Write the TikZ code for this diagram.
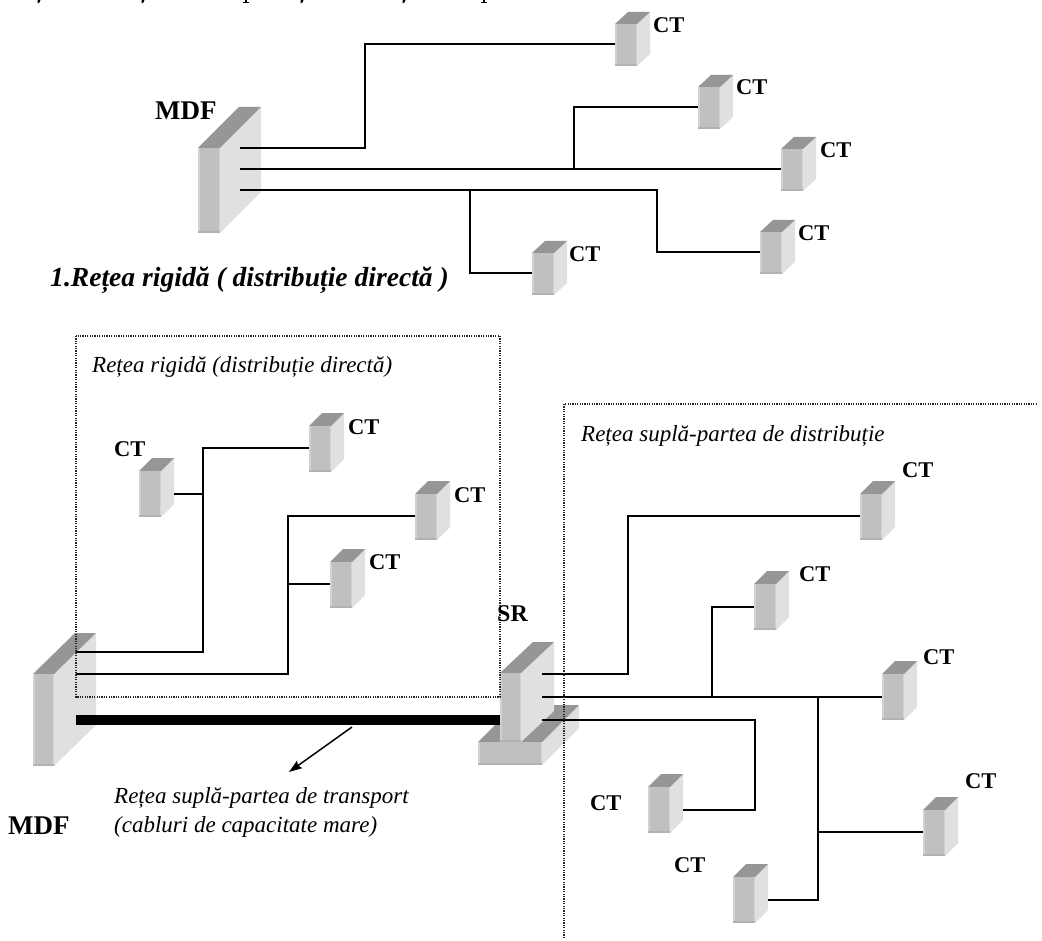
\documentclass[tikz,border=0pt]{standalone}
\usepackage{fontspec}
\setmainfont{Liberation Serif}
\usetikzlibrary{arrows.meta}
\definecolor{fr}{HTML}{C0C0C0}
\definecolor{sd}{HTML}{E0E0E0}
\definecolor{tp}{HTML}{969696}
\definecolor{edgel}{HTML}{D2D2D2}
\definecolor{edged}{HTML}{B2B2B2}
\tikzset{
 wire/.style={draw=black,line width=1.4pt},
 framebox/.style={draw=black!85,line width=1.2pt,dash pattern=on 1.2pt off 1.2pt},
 ctlabel/.style={font=\fontsize{22.5}{24}\selectfont\bfseries,anchor=base west,inner sep=0pt},
 biglabel/.style={font=\fontsize{27}{29}\selectfont\bfseries,anchor=base west,inner sep=0pt},
 srlabel/.style={font=\fontsize{24}{26}\selectfont\bfseries,anchor=base west,inner sep=0pt},
 itlabel/.style={font=\fontsize{23}{25}\selectfont\itshape,anchor=base west,inner sep=0pt},
 titlelabel/.style={font=\fontsize{27.6}{30}\selectfont\bfseries\itshape,anchor=base west,inner sep=0pt},
 frontface/.style={fill=fr,inner sep=0pt,outer sep=0pt,anchor=north west},
}
% #1 name, #2 x of front-left, #3 y of front-top, #4 front w, #5 front h, #6 dx, #7 dy
\newcommand{\slab}[7]{%
 \fill[sd] (#2+#4,#3) -- ++(#6,-#7) -- ++(0,#5) -- ++(-#6,#7) -- cycle;
 \fill[tp] (#2,#3) -- ++(#6,-#7) -- ++(#4,0) -- ++(-#6,#7) -- cycle;
 \node[frontface,minimum width=#4pt,minimum height=#5pt] (#1) at (#2,#3) {};
 \fill[edgel] (#2,#3) rectangle ++(1.5,#5);
 \fill[edgel] (#2+#4-1.5,#3) rectangle ++(1.5,#5);
 \fill[edged] (#2,#3+#5-2) rectangle ++(#4,2);
}
\newcommand{\ctu}[3]{\slab{#1}{#2}{#3}{22}{42}{13}{12}}
\newcommand{\ctl}[3]{\slab{#1}{#2}{#3}{22}{46}{13}{13}}
\begin{document}
\begin{tikzpicture}[x=1pt,y=-1pt]
\useasboundingbox (0,0) rectangle (1042,941);
\fill[white] (0,0) rectangle (1042,941);
% clipped remains of a text line above the picture
\foreach \mx in {39,143,302,404}{\fill[black] (\mx-1.5,0) -- (\mx+1.5,0) -- (\mx+0.5,2.5) -- (\mx-1.5,3.5) -- cycle;}
\foreach \mx in {246,484}{\fill[black] (\mx-3,2) rectangle (\mx+3,3.2); \fill[black] (\mx-1,0) rectangle (\mx+1,2);}
% upper network
\slab{mdfa}{198}{148}{22}{85}{41}{41}
\ctu{ca}{615}{24}
\ctu{cb}{698}{87}
\ctu{cc}{781}{149}
\ctu{cd}{760}{232}
\ctu{ce}{532}{253}
\coordinate (pa) at (240,148);
\coordinate (pb) at (240,169);
\coordinate (pc) at (240,190);
\coordinate (ja) at (365,100);
\coordinate (jb) at (574,169);
\coordinate (jc) at (470,190);
\coordinate (jd) at (657,190);
\coordinate (cap) at (615,44);
\coordinate (cbp) at (698,107);
\coordinate (ccp) at (781,169);
\coordinate (cdp) at (760,252);
\coordinate (cep) at (532,273);
\draw[wire] (pa) -| (ja) |- (cap);
\draw[wire] (pb) -- (ccp);
\draw[wire] (jb) |- (cbp);
\draw[wire] (pc) -- (jd) |- (cdp);
\draw[wire] (jc) |- (cep);
\node[biglabel] (tmdfa) at (155,120) {MDF};
\node[ctlabel] (tca) at (653,33) {CT};
\node[ctlabel] (tcb) at (736,95) {CT};
\node[ctlabel] (tcc) at (820,158) {CT};
\node[ctlabel] (tcd) at (798,241) {CT};
\node[ctlabel] (tce) at (569,262) {CT};
\node[titlelabel] (ttl) at (50,287) {1.Rețea rigidă ( distribuție directă )};
% lower network
\slab{mdfb}{33}{674}{21}{92}{42}{41}
\slab{bas}{478}{742}{64}{23}{37}{37}
\slab{sr}{500}{673}{21}{69}{33}{31}
\ctl{da}{139}{471}
\ctl{db}{309}{426}
\ctl{dc}{415}{494}
\ctl{dd}{330}{562}
\ctl{ea}{860}{494}
\ctl{eb}{754}{584}
\ctl{ec}{882}{674}
\ctl{ed}{648}{787}
\ctl{ee}{923}{810}
\ctl{ef}{733}{877}
\coordinate (qa) at (76,652);
\coordinate (qb) at (76,674);
\coordinate (ka) at (203,550);
\coordinate (kb) at (203,494);
\coordinate (kc) at (288,600);
\coordinate (kd) at (288,584);
\coordinate (dap) at (174,494);
\coordinate (dbp) at (309,448);
\coordinate (dcp) at (415,516);
\coordinate (ddp) at (330,584);
\draw[wire] (qa) -| (ka) |- (dbp);
\draw[wire] (dap) -- (kb);
\draw[wire] (qb) -| (kc) |- (dcp);
\draw[wire] (kd) -- (ddp);
\coordinate (ra) at (542,674);
\coordinate (rb) at (542,697);
\coordinate (rc) at (542,720);
\coordinate (la) at (628,600);
\coordinate (lb) at (712,697);
\coordinate (lc) at (755,760);
\coordinate (ld) at (818,697);
\coordinate (le) at (818,900);
\coordinate (lf) at (818,832);
\coordinate (eap) at (860,516);
\coordinate (ebp) at (754,607);
\coordinate (ecp) at (882,697);
\coordinate (edp) at (683,810);
\coordinate (eep) at (923,832);
\coordinate (efp) at (768,900);
\draw[wire] (ra) -| (la) |- (eap);
\draw[wire] (rb) -- (ecp);
\draw[wire] (lb) |- (ebp);
\draw[wire] (rc) -| (lc) |- (edp);
\draw[wire] (ld) -- (le) -- (efp);
\draw[wire] (lf) -- (eep);
\coordinate (ba) at (76,714.5);
\coordinate (bb) at (500,725);
\fill[black] (ba) rectangle (bb);
\coordinate (fa) at (76,336);
\coordinate (fb) at (500,697);
\draw[framebox] (fa) rectangle (fb);
\coordinate (ga) at (564,938);
\coordinate (gb) at (564,404);
\coordinate (gc) at (1037,404);
\draw[framebox] (ga) -- (gb) -- (gc);
\coordinate (ah) at (352,727);
\coordinate (at) at (289,772);
\draw[line width=1.5pt,-{Stealth[length=13pt,width=9pt,inset=2pt]}] (ah) -- (at);
\node[ctlabel] (tda) at (114,456) {CT};
\node[ctlabel] (tdb) at (348,434) {CT};
\node[ctlabel] (tdc) at (454,502) {CT};
\node[ctlabel] (tdd) at (369,569) {CT};
\node[ctlabel] (tea) at (902,477) {CT};
\node[ctlabel] (teb) at (799,581) {CT};
\node[ctlabel] (tec) at (923,664) {CT};
\node[ctlabel] (ted) at (590,810) {CT};
\node[ctlabel] (tee) at (965,788) {CT};
\node[ctlabel] (tef) at (674,872) {CT};
\node[srlabel] (tsr) at (497,621) {SR};
\node[biglabel] (tmdfb) at (8,834) {MDF};
\node[itlabel] (tla) at (92,373) {Rețea rigidă (distribuție directă)};
\node[itlabel] (tlb) at (581,441) {Rețea suplă-partea de distribuție};
\node[itlabel] (tlc) at (114,803) {Rețea suplă-partea de transport};
\node[itlabel] (tld) at (114,832) {(cabluri de capacitate mare)};
\end{tikzpicture}
\end{document}
